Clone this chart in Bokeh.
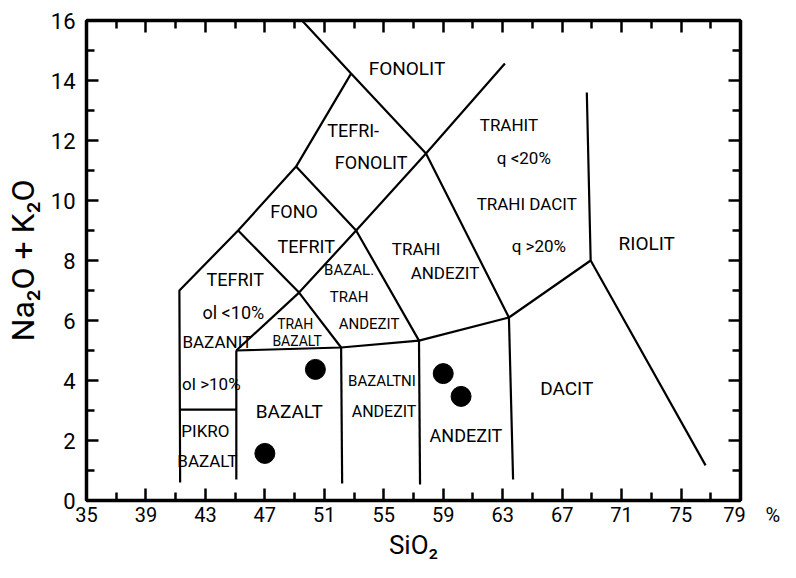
from bokeh.plotting import figure
from bokeh.models import Range1d, LinearAxis, FixedTicker, CustomJSTickFormatter, ColumnDataSource
from bokeh.core.properties import value
from bokeh.embed import file_html
from bokeh.resources import INLINE

FONT = "Roboto"

# ---- axis ticks ----
x_major = [35, 39, 43, 47, 51, 55, 59, 63, 67, 71, 75, 79]
x_minor = [37, 41, 45, 49, 53, 57, 61, 65, 69, 73, 77]
y_major = [0, 2, 4, 6, 8, 10, 12, 14, 16]
y_minor = [1, 3, 5, 7, 9, 11, 13, 15]
x_unit_label = "%"

# ---- field boundaries (SiO2, Na2O+K2O) ----
upper_left_x = [41.3, 41.25, 45.2, 49.1, 52.8]
upper_left_y = [0.6, 7.0, 9.0, 11.13, 14.23]
phonolite_x = [49.5, 52.8, 57.84, 63.42]
phonolite_y = [16.0, 14.23, 11.57, 6.1]
long_diag_x = [45.08, 49.3, 53.14, 57.84, 63.15]
long_diag_y = [5.0, 6.93, 9.0, 11.57, 14.57]
mid_diag_x = [49.1, 53.14, 57.37]
mid_diag_y = [11.13, 9.0, 5.33]
low_diag_x = [45.2, 49.3, 52.13]
low_diag_y = [9.0, 6.93, 5.1]
base_x = [45.08, 52.13, 57.37, 63.42, 68.92]
base_y = [5.0, 5.1, 5.33, 6.1, 8.0]
rhyolite_x = [68.66, 68.92, 76.65]
rhyolite_y = [13.6, 8.0, 1.17]
picro_top_x = [41.3, 45.08]
picro_top_y = [3.03, 3.03]
basalt_left_x = [45.08, 45.08]
basalt_left_y = [5.0, 0.7]
basalt_right_x = [52.13, 52.2]
basalt_right_y = [5.1, 0.57]
bas_andesite_right_x = [57.37, 57.44]
bas_andesite_right_y = [5.33, 0.53]
andesite_right_x = [63.42, 63.7]
andesite_right_y = [6.1, 0.7]

boundaries = [
    (upper_left_x, upper_left_y), (phonolite_x, phonolite_y), (long_diag_x, long_diag_y),
    (mid_diag_x, mid_diag_y), (low_diag_x, low_diag_y), (base_x, base_y),
    (rhyolite_x, rhyolite_y), (picro_top_x, picro_top_y), (basalt_left_x, basalt_left_y),
    (basalt_right_x, basalt_right_y), (bas_andesite_right_x, bas_andesite_right_y),
    (andesite_right_x, andesite_right_y),
]

# ---- samples ----
sample_sio2 = [47.0, 50.4, 59.0, 60.2]
sample_alk = [1.57, 4.37, 4.23, 3.47]

# ---- field names ----
label_text = ["FONOLIT", "TEFRI-", "FONOLIT", "FONO", "TEFRIT", "TEFRIT", "ol <10%",
              "BAZANIT", "ol >10%", "PIKRO", "BAZALT", "BAZALT", "TRAH", "BAZALT",
              "BAZAL.", "TRAH", "ANDEZIT", "TRAHI", "ANDEZIT", "TRAHIT", "q <20%",
              "TRAHI DACIT", "q >20%", "RIOLIT", "BAZALTNI", "ANDEZIT", "ANDEZIT", "DACIT"]
label_x = [56.56, 52.94, 54.15, 48.97, 49.78, 45.01, 44.88, 43.8, 43.4, 43.0, 43.13,
           48.64, 49.04, 49.17, 52.67, 52.67, 54.01, 57.17, 59.12, 63.42, 64.42,
           64.62, 65.43, 72.69, 54.88, 55.02, 60.53, 67.31]
label_y = [14.4, 12.33, 11.27, 9.63, 8.47, 7.37, 6.27, 5.3, 3.9, 2.33, 1.33,
           2.97, 5.9, 5.33, 7.67, 6.77, 5.9, 8.4, 7.57, 12.53, 11.43,
           9.9, 8.5, 8.57, 3.97, 2.97, 2.17, 3.73]
label_size = ["19px", "18px", "18px", "18px", "18px", "18px", "18px",
              "17px", "17px", "17px", "17px", "19px", "14px", "14px",
              "15px", "15px", "15px", "17px", "17px", "17px", "17px",
              "17px", "17px", "19px", "15px", "16px", "18px", "19px"]

p = figure(width=780, height=562, output_backend="svg", toolbar_location=None,
           x_range=Range1d(35, 79), y_range=Range1d(0, 16),
           min_border_left=85, min_border_right=40, min_border_top=20, min_border_bottom=58)
p.xgrid.visible = False
p.ygrid.visible = False
p.outline_line_color = "black"
p.outline_line_width = 3

def style_axis(ax, major, minor, labels=True):
    ax.ticker = FixedTicker(ticks=major, minor_ticks=minor)
    ax.axis_line_width = 3.5
    ax.major_tick_in = 12
    ax.major_tick_out = 0
    ax.minor_tick_in = 8
    ax.minor_tick_out = 0
    ax.major_tick_line_width = 2.5
    ax.minor_tick_line_width = 2.5
    if labels:
        ax.major_label_text_font = FONT
        ax.major_label_text_font_size = "20px"
        ax.major_label_text_color = "black"
    else:
        ax.formatter = CustomJSTickFormatter(code="return ''")
        ax.major_label_text_font_size = "1px"
        ax.major_label_standoff = 0

style_axis(p.xaxis[0], x_major, x_minor)
style_axis(p.yaxis[0], y_major, y_minor)
p.yaxis[0].major_label_text_font_size = "22px"
p.xaxis[0].major_label_standoff = 2
p.yaxis[0].major_label_standoff = 11
# unit sign after the last SiO2 tick
last = x_major[-1]
p.xaxis[0].major_label_overrides = {
    last: "\u2007\u2007" + str(last) + "\u00a0\u00a0\u00a0\u00a0" + x_unit_label}
p.xaxis[0].axis_label = "SiO₂"
p.yaxis[0].axis_label = "Na₂O + K₂O"
for ax in (p.xaxis[0], p.yaxis[0]):
    ax.axis_label_text_font = FONT
    ax.axis_label_text_font_style = "normal"
    ax.axis_label_text_color = "black"
p.xaxis[0].axis_label_text_font_size = "26px"
p.xaxis[0].axis_label_standoff = 0
p.yaxis[0].axis_label_text_font_size = "32px"
p.yaxis[0].axis_label_standoff = 6

top = LinearAxis()
style_axis(top, x_major, x_minor, labels=False)
p.add_layout(top, "above")
right = LinearAxis()
style_axis(right, y_major, y_minor, labels=False)
p.add_layout(right, "right")

for bx, by in boundaries:
    p.line(bx, by, line_color="black", line_width=2.2)

p.scatter(sample_sio2, sample_alk, size=20, color="black")

src = ColumnDataSource(dict(x=label_x, y=label_y, t=label_text, s=label_size))
p.text("x", "y", text="t", source=src, text_font=value(FONT), text_font_size="s",
       text_align="center", text_baseline="middle", text_color="black")

open("out.html", "w").write(file_html(p, INLINE))
